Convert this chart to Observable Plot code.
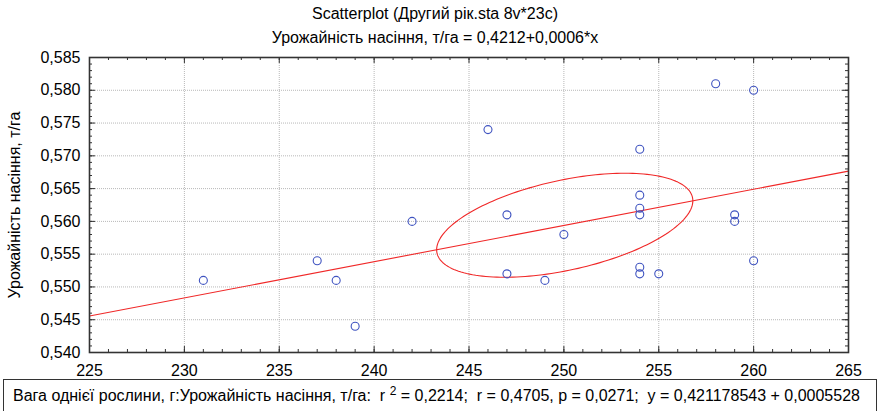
<!DOCTYPE html>
<html>
<head>
<meta charset="utf-8">
<script src="https://cdn.jsdelivr.net/npm/d3@7"></script>
<script src="https://cdn.jsdelivr.net/npm/@observablehq/plot@0.6"></script>
<style>
  body { margin: 0; background: #fff; font-family: "Liberation Sans", Arial, sans-serif; }
  #wrap { position: relative; width: 880px; height: 411px; overflow: hidden; background: #fff; }
  .t { position: absolute; left: 0; width: 870px; text-align: center; font-size: 16px; line-height: 16px; white-space: nowrap; color: #000; z-index: 2; }
  #t1 { top: 5.5px; }
  #t2 { top: 29.5px; }
  #chart { position: absolute; left: 0; top: 48px; }
  #foot { position: absolute; left: 3px; top: 379px; width: 874px; height: 40px; border: 1px solid #333; box-sizing: border-box;
          font-size: 16px; line-height: 16px; white-space: pre; overflow: hidden; padding: 8px 0 0 9px; color: #000; }
  #foot sup { font-size: 12px; line-height: 0; vertical-align: 6px; }
</style>
</head>
<body>
<div id="wrap">
  <div class="t" id="t1">Scatterplot (Другий рік.sta 8v*23c)</div>
  <div class="t" id="t2">Урожайність насіння, т/га = 0,4212+0,0006*x</div>
  <div id="chart"></div>
  <div id="foot">Вага однієї рослини, г:Урожайність насіння, т/га:  r <sup>2</sup> = 0,2214;  r = 0,4705, p = 0,0271;  y = 0,421178543 + 0,0005528</div>
</div>
<script>
// ---- data ----
const plantWeight = [231, 237, 238, 239, 242, 246, 247, 247, 249, 250, 254, 254, 254, 254, 254, 254, 255, 258, 259, 259, 260, 260];
const seedYield   = [0.551, 0.554, 0.551, 0.544, 0.560, 0.574, 0.561, 0.552, 0.551, 0.558, 0.571, 0.564, 0.562, 0.561, 0.553, 0.552, 0.552, 0.581, 0.561, 0.560, 0.580, 0.554];
const xTicks = [225, 230, 235, 240, 245, 250, 255, 260, 265];
const yTicks = [0.540, 0.545, 0.550, 0.555, 0.560, 0.565, 0.570, 0.575, 0.580, 0.585];
const xDomain = [225, 265];
const yDomain = [0.540, 0.585];
const intercept = 0.421178543;
const slope = 0.0005528;
const yTitle = "Урожайність насіння, т/га";
const ellipseK = 0.815;

// ---- derived ----
const points = plantWeight.map((x, i) => ({x, y: seedYield[i]}));
const fitLine = xDomain.map(x => ({x, y: intercept + slope * x}));
const n = plantWeight.length;
const mx = d3.mean(plantWeight), my = d3.mean(seedYield);
const sx = d3.deviation(plantWeight), sy = d3.deviation(seedYield);
const r = d3.sum(plantWeight.map((x, i) => (x - mx) * (seedYield[i] - my))) / ((n - 1) * sx * sy);
const ellipse = d3.range(0, 2 * Math.PI, Math.PI / 90).map(t => ({
  x: mx + ellipseK * sx * Math.cos(t),
  y: my + ellipseK * sy * (r * Math.cos(t) + Math.sqrt(1 - r * r) * Math.sin(t))
}));
const xMinor = d3.range(xDomain[0], xDomain[1] + 0.5, 1);
const yMinor = d3.range(0, 46).map(i => yDomain[0] + i * 0.001);

const W = 880, H = 331, mL = 89, mR = 32, mT = 9, mB = 27;
const innerW = W - mL - mR, innerH = H - mT - mB;
const fmtY = d => d3.format(".3f")(d).replace(".", ",");
const tickCol = "#333";
const red = "#f02828";
const blue = "#3f53c0";
const gridStyle = {stroke: "#b8b8b8", strokeWidth: 1, strokeDasharray: "1,1"};

const chart = Plot.plot({
  width: W, height: H,
  marginLeft: mL, marginRight: mR, marginTop: mT, marginBottom: mB,
  style: {fontFamily: "'Liberation Sans', Arial, sans-serif", fontSize: "16px", color: "#000", background: "transparent"},
  x: {domain: xDomain, ticks: xTicks, tickSize: 0, tickPadding: 12, tickFormat: d => String(d), label: null},
  y: {domain: yDomain, ticks: yTicks, tickSize: 0, tickPadding: 9, tickFormat: fmtY, label: null},
  marks: [
    Plot.ruleX(xTicks.slice(1, -1), gridStyle),
    Plot.ruleY(yTicks.slice(1, -1), gridStyle),
    Plot.line(fitLine, {x: "x", y: "y", stroke: red, strokeWidth: 1.1}),
    Plot.line(ellipse, {x: "x", y: "y", stroke: red, strokeWidth: 1.1, curve: "linear-closed"}),
    Plot.dot(points, {x: "x", y: "y", r: 4, stroke: blue, strokeWidth: 1.1}),
    // inward minor ticks
    Plot.ruleX(xMinor, {insetTop: innerH - 3, stroke: tickCol}),
    Plot.ruleX(xMinor, {insetBottom: innerH - 3, stroke: tickCol}),
    Plot.ruleY(yMinor, {insetRight: innerW - 3, stroke: tickCol}),
    Plot.ruleY(yMinor, {insetLeft: innerW - 3, stroke: tickCol}),
    // inward major ticks
    Plot.ruleX(xTicks, {insetTop: innerH - 6, stroke: tickCol}),
    Plot.ruleX(xTicks, {insetBottom: innerH - 6, stroke: tickCol}),
    Plot.ruleY(yTicks, {insetRight: innerW - 6, stroke: tickCol}),
    Plot.ruleY(yTicks, {insetLeft: innerW - 6, stroke: tickCol}),
    Plot.frame({stroke: "#333", strokeWidth: 1.6}),
    Plot.text([yTitle], {text: d => d, frameAnchor: "left", textAnchor: "middle", lineAnchor: "middle", rotate: -90, dx: -75, fontSize: 16, fill: "#000"})
  ]
});
document.getElementById("chart").appendChild(chart);
</script>
</body>
</html>
